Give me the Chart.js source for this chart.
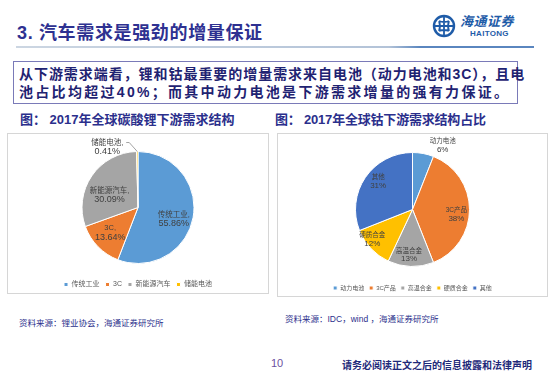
<!DOCTYPE html>
<html><head><meta charset="utf-8">
<script src="https://cdn.jsdelivr.net/npm/chart.js@4/dist/chart.umd.min.js"></script>
<style>
body{margin:0;width:550px;height:379px;background:#fff;position:relative;overflow:hidden;font-family:'Liberation Sans','Noto Sans CJK SC',sans-serif;}
.abs{position:absolute;white-space:nowrap;line-height:1;}
#title{left:17px;top:24px;font-size:18px;color:#2E3191;font-weight:bold;letter-spacing:0.65px;}
#rule{position:absolute;left:16px;top:46px;width:518px;height:2px;background:linear-gradient(to right,#ccd6e2 0%,#b3c3d8 72%,#5a86bf 78%,#5a86bf 100%);}
#note{position:absolute;left:13px;top:61px;width:505px;height:43px;border:1px solid #7a7ab8;box-sizing:border-box;}
.nl{font-size:14px;color:#1F2372;font-weight:bold;}
.ct{font-size:13px;color:#2B2F8C;font-weight:bold;}
.box{position:absolute;border:1px solid #d6d6d6;box-sizing:border-box;background:#fff;overflow:hidden;}
.box canvas{position:absolute;left:0;top:0;}
.src{font-size:8.5px;color:#2B2F8C;}
</style></head>
<body>
<div id="title" class="abs">3. 汽车需求是强劲的增量保证</div>
<div id="rule"></div>
<svg class="abs" style="left:432px;top:14px" width="24" height="24" viewBox="0 0 24 24">
  <circle cx="12" cy="12" r="10" fill="none" stroke="#1F5CA8" stroke-width="2.4"/>
  <path d="M12 3 V21 M3 12 H21 M7 7 Q12 9 17 7 M7 17 Q12 15 17 17 M7 7 Q9 12 7 17 M17 7 Q15 12 17 17" fill="none" stroke="#1F5CA8" stroke-width="1.8"/>
</svg>
<div class="abs" style="left:460px;top:15px;font-size:13px;font-weight:bold;font-style:italic;color:#1F5CA8;letter-spacing:0.5px;">海通证券</div>
<div class="abs" style="left:470px;top:30px;font-size:8px;font-weight:bold;color:#1F5CA8;letter-spacing:0.3px;">HAITONG</div>

<div id="note"></div>
<div class="abs nl" style="left:19px;top:67px;letter-spacing:0.95px;">从下游需求端看，锂和钴最重要的增量需求来自电池（动力电池和3C），且电</div>
<div class="abs nl" style="left:19px;top:85px;letter-spacing:2.3px;">池占比均超过40%；而其中动力电池是下游需求增量的强有力保证。</div>

<div class="abs ct" style="left:20px;top:113px;">图： 2017年全球碳酸锂下游需求结构</div>
<div class="abs ct" style="left:275px;top:113px;letter-spacing:-0.2px;">图： 2017年全球钴下游需求结构占比</div>

<div class="box" style="left:7px;top:133px;width:262px;height:161px;"><canvas id="c1" width="260" height="164"></canvas></div>
<div class="box" style="left:277px;top:133px;width:271px;height:164px;"><canvas id="c2" width="269" height="167"></canvas></div>

<div class="abs src" style="left:19px;top:319px;">资料来源：锂业协会，海通证券研究所</div>
<div class="abs src" style="left:285px;top:315px;">资料来源：IDC，wind ，海通证券研究所</div>
<div class="abs" style="left:271px;top:358px;font-size:11px;color:#6B4FA0;">10</div>
<div class="abs" style="left:342px;top:361px;font-size:10px;font-weight:bold;color:#1F2A7A;">请务必阅读正文之后的信息披露和法律声明</div>

<script>
// ---- data ----
const lithiumCategories = ['传统工业', '3C', '新能源汽车', '储能电池'];
const lithiumShares = [55.86, 13.64, 30.09, 0.41];
const cobaltCategories = ['动力电池', '3C产品', '高温合金', '硬质合金', '其他'];
const cobaltShares = [6, 38, 13, 12, 31];

const FAM = "'Liberation Sans','Noto Sans CJK SC',sans-serif";

const sliceLabels = {
  id: 'sliceLabels',
  afterDatasetsDraw(chart, args, o) {
    const ctx = chart.ctx;
    const meta = chart.getDatasetMeta(0);
    const data = chart.data.datasets[0].data;
    meta.data.forEach((arc, i) => {
      const p = arc.getProps(['x', 'y', 'startAngle', 'endAngle', 'outerRadius'], true);
      const mid = (p.startAngle + p.endAngle) / 2;
      const f = o.factors[i];
      const off = o.offsets[i];
      const ax = p.x + Math.cos(mid) * p.outerRadius * f + off[0];
      const ay = p.y + Math.sin(mid) * p.outerRadius * f + off[1];
      ctx.save();
      ctx.fillStyle = o.color;
      ctx.textAlign = 'center';
      ctx.textBaseline = 'middle';
      ctx.font = o.nameFont;
      ctx.fillText(chart.data.labels[i] + o.sep, ax, ay - o.gap / 2);
      ctx.font = o.valFont;
      ctx.fillText(o.fmt(data[i]), ax, ay + o.gap / 2);
      if (o.leader && o.leader[i]) {
        const sx = p.x + Math.cos(mid) * p.outerRadius;
        const sy = p.y + Math.sin(mid) * p.outerRadius;
        ctx.strokeStyle = '#8c8c8c';
        ctx.lineWidth = 0.8;
        ctx.beginPath();
        ctx.moveTo(sx, sy);
        ctx.lineTo(ax + 22, ay - o.gap / 2);
        ctx.lineTo(ax + 19, ay - o.gap / 2);
        ctx.stroke();
      }
      ctx.restore();
    });
  }
};

function makePie(id, labels, values, colors, padTop, legendPad, legendFont, lbl) {
  return new Chart(document.getElementById(id), {
    type: 'pie',
    data: { labels, datasets: [{ data: values, backgroundColor: colors, borderColor: '#ffffff', borderWidth: 1, radius: lbl.radius }] },
    options: {
      responsive: false, animation: false,
      layout: { padding: { top: padTop, bottom: 0, left: 0, right: 0 } },
      plugins: {
        tooltip: { enabled: false },
        legend: { position: 'bottom', labels: { boxWidth: 4, boxHeight: 4, padding: legendPad, color: '#595959', font: { size: legendFont, family: FAM } } },
        sliceLabels: lbl
      }
    },
    plugins: [sliceLabels]
  });
}

makePie('c1', lithiumCategories, lithiumShares, ['#5B9BD5', '#ED7D31', '#A5A5A5', '#FFC000'], 6, 6, 7, {
  radius: 56,
  factors: [0.65, 0.67, 0.55, 1.08],
  offsets: [[0, 5], [-1, -1], [-3, 5], [-30, 0]],
  leader: [false, false, false, true],
  sep: ',', gap: 9, color: '#404040',
  nameFont: "7.5px " + FAM, valFont: "9px " + FAM,
  fmt: v => v.toFixed(2) + '%'
});

makePie('c2', cobaltCategories, cobaltShares, ['#5B9BD5', '#ED7D31', '#A5A5A5', '#FFC000', '#4472C4'], 5, 5, 6, {
  radius: 57,
  factors: [1.14, 0.77, 0.8, 0.87, 0.75],
  offsets: [[18, 0], [0, 5], [-2, 0], [-4, -4], [1, -4]],
  leader: null,
  sep: '', gap: 8, color: '#404040',
  nameFont: "6.5px " + FAM, valFont: "8px " + FAM,
  fmt: v => v + '%'
});
</script>
</body></html>
